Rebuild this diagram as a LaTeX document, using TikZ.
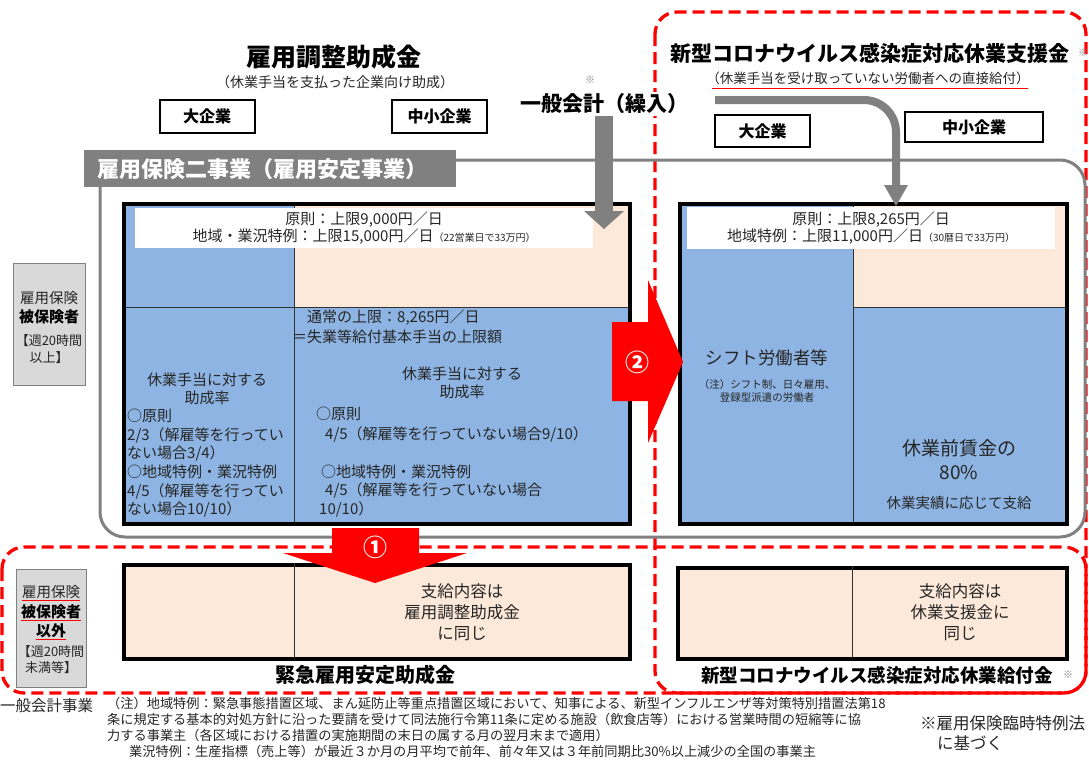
\documentclass[tikz,border=0pt]{standalone}
\usepackage{fontspec}
\setmainfont{Noto Sans CJK JP}
\definecolor{cblue}{RGB}{141,180,226}
\definecolor{cpeach}{RGB}{253,233,217}
\definecolor{cred}{RGB}{255,0,0}
\definecolor{cgray}{RGB}{128,128,128}
\definecolor{clgray}{RGB}{217,217,217}
\definecolor{ctext}{RGB}{38,38,38}
\newcommand\fs[2]{\fontsize{#1}{#2}\selectfont}
\tikzset{
  every node/.style={inner sep=0pt, text=ctext},
  tagbox/.style={draw=black, line width=2pt, fill=white, text=black, font=\bfseries\fs{16}{19}},
  bigbox/.style={draw=black, line width=3.5pt, anchor=north west},
  divl/.style={draw=black!80, line width=0.9pt},
  reddash/.style={draw=cred, line width=3.3pt, dash pattern=on 12pt off 6pt, rounded corners=22pt},
  outl/.style={draw=cgray, line width=3pt, rounded corners=25pt},
  body/.style={font=\fs{15}{18.6}},
  gbox/.style={draw=cgray, fill=clgray, line width=0.8pt, anchor=north west},
  gt/.style={font=\fs{14.5}{17}},
  gtb/.style={font=\bfseries\fs{15}{18}, text=black},
  gts/.style={font=\fs{13}{15}},
  redul/.style={draw=cred, line width=0.9pt},
  note/.style={font=\fs{13.2}{16}, anchor=north west, align=left},
}
\begin{document}
\begin{tikzpicture}[x=1pt,y=-1pt]
\useasboundingbox (0,0) rectangle (1089,766);
\fill[white] (0,0) rectangle (1089,766);

% red dashed frames
\draw[reddash] (655,12) rectangle (1086,693);
\draw[reddash] (2,547) rectangle (1086,693);

% gray outline of 雇用保険二事業
\draw[outl] (456,160) -- (1085,160) -- (1085,537) -- (100,537) -- (100,187);
\node[fill=cgray, text=white, font=\bfseries\fs{22}{26}, anchor=north west, minimum height=37, text width=346, inner xsep=13, align=left] (hdr) at (84,150) {雇用保険二事業（雇用安定事業）};

% titles left
\node[font=\bfseries\fs{25}{30}, text=black] (t1) at (334,57) {雇用調整助成金};
\node[font=\fs{14}{17}] (t1s) at (335,82) {（休業手当を支払った企業向け助成）};
\node[tagbox, minimum width=95, minimum height=33] (lg1) at (207,116.5) {大企業};
\node[tagbox, minimum width=95, minimum height=33] (sm1) at (439.5,116.5) {中小企業};

% titles right
\node[font=\bfseries\fs{21}{25}, text=black] (t2) at (870,53) {新型コロナウイルス感染症対応休業支援金};
\node[font=\fs{10}{12}, text=cgray] (t2m) at (1083,53) {※};
\node[font=\fs{13.5}{16}] (t2s) at (868,78) {（休業手当を受け取っていない労働者への直接給付）};
\draw[redul] (712,88) -- (1028,88);
\node[tagbox, minimum width=95, minimum height=32] (lg2) at (762.5,131) {大企業};
\node[tagbox, minimum width=138, minimum height=30] (sm2) at (974,127) {中小企業};

% left big box
\fill[cblue] (122,202) rectangle (294,522);
\fill[cpeach] (294,202) rectangle (628,307);
\fill[cblue] (294,307) rectangle (628,522);
\draw[divl] (294,202) -- (294,522);
\draw[divl] (122,307) -- (628,307);
\node[bigbox, minimum width=506, minimum height=320] (lbox) at (122,202) {};
\node[fill=white, minimum width=458, minimum height=40, anchor=north west, font=\fs{15}{17.5}, align=center] (llab) at (135,208) {原則：上限9,000円／日\\地域・業況特例：上限15,000円／日{\fs{10}{11}（22営業日で33万円）}};

\node[body, align=center] (lc1) at (207,389) {休業手当に対する\\助成率};
\node[body, anchor=north west, align=left] (lc2) at (127,409) {○原則\\2/3（解雇等を行ってい\\ない場合3/4）\\○地域特例・業況特例\\4/5（解雇等を行ってい\\ない場合10/10）};

\node[body, anchor=west] (m1) at (307,318) {通常の上限：8,265円／日};
\node[body, anchor=west] (m2) at (292,337) {＝失業等給付基本手当の上限額};
\node[body, align=center] (m3) at (462,383) {休業手当に対する\\助成率};
\node[body, anchor=west] (m4) at (316,414) {○原則};
\node[body, anchor=west] (m5) at (325,434) {4/5（解雇等を行っていない場合9/10）};
\node[body, anchor=west] (m6) at (321,472) {○地域特例・業況特例};
\node[body, anchor=west] (m7) at (325,490) {4/5（解雇等を行っていない場合};
\node[body, anchor=west] (m8) at (319,509) {10/10）};

% right big box
\fill[cblue] (678,202) rectangle (853,522);
\fill[cpeach] (853,202) rectangle (1065,307);
\fill[cblue] (853,307) rectangle (1065,522);
\draw[divl] (853,202) -- (853,522);
\draw[divl] (853,307) -- (1065,307);
\node[bigbox, minimum width=387, minimum height=320] (rbox) at (678,202) {};
\node[fill=white, minimum width=368, minimum height=42, anchor=north west, font=\fs{15}{17.5}, align=center] (rlab) at (687,207) {原則：上限8,265円／日\\地域特例：上限11,000円／日{\fs{10}{11}（30暦日で33万円）}};
\node[font=\fs{17.5}{20}] (sh1) at (767,358) {シフト労働者等};
\node[font=\fs{10.5}{13}, align=center] (sh2) at (767,391) {（注）シフト制、日々雇用、\\登録型派遣の労働者};
\node[font=\fs{19}{24}, align=center] (p80) at (959,460) {休業前賃金の\\80\%};
\node[font=\fs{14.5}{17}] (pj) at (959,503) {休業実績に応じて支給};

% general account
\node[font=\fs{10}{12}, text=cgray] (ipm) at (590,80) {※};
\node[fill=white, font=\bfseries\fs{21}{25}, text=black, inner xsep=3pt, inner ysep=2pt] (ippan) at (604,104) {一般会計（繰入）};
\draw[cgray, line width=18pt] (ippan.south) -- (604,212);
\fill[cgray] (584,211) -- (624,211) -- (604,229) -- cycle;
\coordinate (cs) at (715,100);
\coordinate (ce) at (896,187);
\draw[cgray, line width=8pt, rounded corners=32pt] (cs) -- (896,100) -- (ce);
\fill[cgray] (884,185) -- (908,185) -- (896,206) -- cycle;

% red arrow 2
\fill[cred] (612,322) -- (648,322) -- (648,280) -- (683,362) -- (648,443) -- (648,401) -- (612,401) -- cycle;
\node[text=white, font=\bfseries\fs{24}{26}] (n2) at (637,362) {②};

% bottom boxes
\node[bigbox, fill=cpeach, minimum width=506, minimum height=94] (lbot) at (122,563) {};
\draw[divl] (294,563) -- (294,657);
\node[font=\fs{16.5}{21}, align=center] (lbt) at (462,612) {支給内容は\\雇用調整助成金\\に同じ};
\node[font=\bfseries\fs{20}{24}, text=black] (kinkyu) at (365,675) {緊急雇用安定助成金};

\node[bigbox, fill=cpeach, minimum width=389, minimum height=91] (rbot) at (676,566) {};
\draw[divl] (852,566) -- (852,657);
\node[font=\fs{16.5}{21}, align=center] (rbt) at (960,612) {支給内容は\\休業支援金に\\同じ};
\node[font=\bfseries\fs{18.5}{22}, text=black] (kyufu) at (877,675) {新型コロナウイルス感染症対応休業給付金};
\node[font=\fs{10}{12}, text=cgray] (kyufum) at (1068,675) {※};

% red arrow 1
\fill[cred] (332,528) -- (419,528) -- (419,553) -- (467,553) -- (375,583) -- (283,553) -- (332,553) -- cycle;
\node[text=white, font=\bfseries\fs{24}{26}] (n1) at (375,547) {①};

% gray side boxes
\node[gbox, minimum width=72, minimum height=122] (g1) at (13,263) {};
\node[gt] (g1a) at (49,298) {雇用保険};
\node[gtb] (g1b) at (49,317) {被保険者};
\node[gts] (g1c) at (49,341) {【週20時間};
\node[gts] (g1d) at (49,358) {以上】};

\node[gbox, minimum width=70, minimum height=118] (g2) at (16,569) {};
\node[gt] (g2a) at (51,592) {雇用保険};
\node[gtb] (g2b) at (51,612) {被保険者};
\node[gtb] (g2c) at (51,631) {以外};
\node[gts] (g2d) at (51,652) {【週20時間};
\node[gts] (g2e) at (51,668) {未満等】};
\draw[redul] ([yshift=-1.5pt]g2a.south west) -- ([yshift=-1.5pt]g2a.south east);
\draw[redul] ([yshift=-1.5pt]g2b.south west) -- ([yshift=-1.5pt]g2b.south east);
\draw[redul] ([yshift=-1.5pt]g2c.south west) -- ([yshift=-1.5pt]g2c.south east);

% footnotes
\node[font=\fs{15.5}{18}, anchor=west] (fn0) at (0,706) {一般会計事業};
\node[note] (fn) at (107,697) {（注）地域特例：緊急事態措置区域、まん延防止等重点措置区域において、知事による、新型インフルエンザ等対策特別措置法第18\\条に規定する基本的対処方針に沿った要請を受けて同法施行令第11条に定める施設（飲食店等）における営業時間の短縮等に協\\力する事業主（各区域における措置の実施期間の末日の属する月の翌月末まで適用）\\\hspace*{22pt}業況特例：生産指標（売上等）が最近３か月の月平均で前年、前々年又は３年前同期比30\%以上減少の全国の事業主};
\node[font=\fs{16.5}{19}, anchor=west] (fr1) at (920,723) {※雇用保険臨時特例法};
\node[font=\fs{16.5}{19}, anchor=west] (fr2) at (937,743) {に基づく};
\end{tikzpicture}
\end{document}
